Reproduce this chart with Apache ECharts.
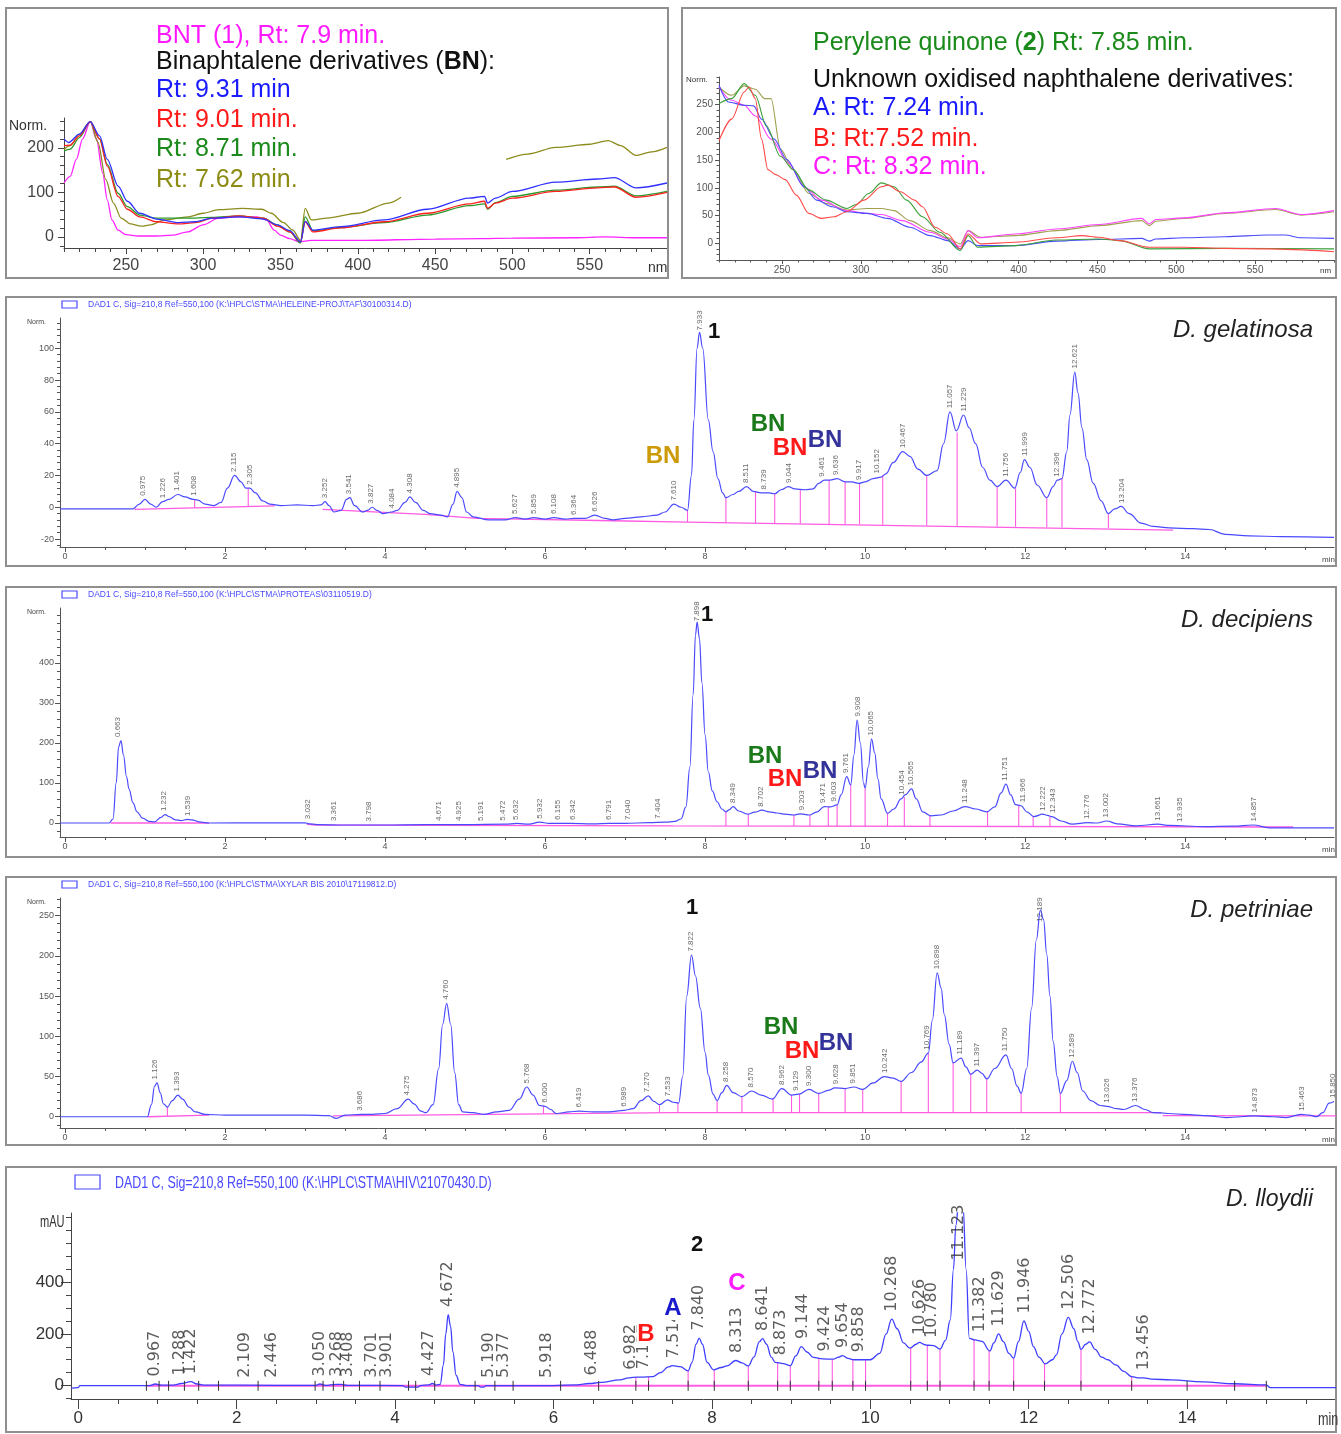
<!DOCTYPE html>
<html>
<head>
<meta charset="utf-8">
<script src="https://cdn.jsdelivr.net/npm/echarts@6/dist/echarts.min.js"></script>
<style>
  html, body { margin: 0; padding: 0; background: #fff; }
  #main { width: 1341px; height: 1434px; }
</style>
</head>
<body>
<div id="main"></div>
<script>
// ---------- UV spectra, left panel (nm / Norm.) ----------
const specTicksNm = [250, 300, 350, 400, 450, 500, 550];
const specATicksY = [0, 100, 200];
const bntSpec = [[210,121],[214,136],[218,174],[222,220],[227,259],[231,220],[235,144],[238,83],[241,38],[245,15],[250,5],[258,2],[270,2],[280,4],[290,11],[300,27],[310,42],[320,45],[335,45],[341,38],[346,15],[350,4],[356,-4],[362,-11],[370,-8],[400,-8],[450,-5],[480,-4],[500,-3],[540,-2],[560,0],[580,-2],[600,-2]];
const bn931Spec = [[210,220],[213,212],[220,231],[227,259],[233,227],[238,174],[245,114],[251,80],[259,53],[270,40],[284,32],[295,34],[306,42],[323,45],[339,40],[348,27],[356,14],[363,-11],[366,35],[371,15],[389,23],[417,38],[445,62],[472,87],[482,91],[484,76],[489,87],[500,102],[528,123],[555,130],[566,133],[580,110],[600,121]];
const bn901Spec = [[210,205],[214,206],[220,227],[227,259],[233,220],[238,159],[245,91],[251,62],[259,45],[270,34],[284,29],[295,32],[306,42],[323,47],[339,42],[348,24],[356,11],[363,-11],[366,34],[371,11],[389,20],[417,34],[445,53],[472,74],[482,80],[484,64],[489,76],[500,87],[528,102],[555,110],[566,112],[580,89],[600,100]];
const bn871Spec = [[210,193],[214,197],[220,223],[227,259],[233,220],[238,163],[245,98],[251,68],[259,49],[270,42],[284,42],[295,42],[306,44],[323,47],[339,42],[348,27],[356,11],[363,-14],[366,45],[371,14],[389,21],[417,32],[445,49],[472,70],[482,74],[484,62],[489,77],[500,91],[528,105],[555,112],[566,114],[580,92],[600,102]];
const bn762Spec = [[210,197],[214,205],[220,231],[227,259],[232,212],[237,129],[242,76],[247,42],[253,29],[260,24],[266,27],[275,38],[290,45],[300,53],[310,61],[325,64],[338,62],[344,53],[352,32],[358,15],[363,-8],[366,64],[370,38],[380,42],[400,53],[420,76],[428,89],[460,'-'],[496,174],[510,186],[528,201],[550,208],[562,216],[570,205],[580,183],[590,191],[600,201]];

// ---------- UV spectra, right panel ----------
const specBTicksY = [0, 50, 100, 150, 200, 250];
const pqSpec = [[210,252],[218,261],[226,288],[233,267],[240,212],[249,157],[257,133],[267,96],[278,78],[291,63],[297,70],[305,90],[313,109],[321,102],[329,78],[339,48],[350,20],[363,-13],[368,14],[374,-7],[398,-4],[424,6],[451,8],[464,5],[483,-10],[531,-9],[600,-10]];
const unkASpec = [[210,285],[216,255],[226,249],[232,248],[237,224],[245,188],[253,151],[264,102],[272,78],[282,66],[291,57],[304,54],[317,45],[331,29],[344,14],[355,5],[363,-10],[368,5],[374,-4],[398,-4],[424,4],[451,7],[478,9],[483,4],[487,8],[505,10],[531,12],[558,15],[569,15],[579,10],[600,9]];
const unkBSpec = [[210,185],[218,224],[226,273],[229,282],[233,261],[237,188],[241,133],[246,124],[252,115],[259,87],[267,54],[275,45],[283,48],[291,57],[302,78],[313,102],[317,105],[325,93],[334,78],[339,66],[347,29],[355,17],[363,-10],[368,17],[376,-1],[398,2],[424,10],[440,14],[451,11],[464,5],[483,-7],[505,-7],[531,-9],[558,-10],[600,-15]];
const unkCSpec = [[210,282],[218,258],[226,249],[233,230],[243,188],[254,145],[264,102],[275,78],[291,59],[304,54],[313,52],[326,41],[344,20],[355,8],[363,-6],[368,23],[374,10],[398,17],[424,26],[451,34],[478,45],[483,35],[487,43],[505,46],[531,55],[563,63],[579,52],[600,59]];
const oliveSpec = [[210,282],[218,267],[226,284],[233,278],[239,261],[243,261],[249,170],[257,133],[267,90],[278,72],[291,60],[304,63],[313,63],[321,59],[331,41],[344,23],[355,10],[363,-1],[368,23],[376,11],[398,14],[424,23],[451,32],[478,41],[483,32],[487,40],[505,45],[531,54],[563,61],[579,51],[600,57]];

// ---------- chromatograms (min / signal) ----------
const timeTicks = [0, 2, 4, 6, 8, 10, 12, 14];

// D. gelatinosa
const gelTicksY = [-20, 0, 20, 40, 60, 80, 100];
const gelTrace = [[-0.06,-1],[0.85,-1],[0.93,2],[1.0,5],[1.07,2],[1.14,0],[1.22,3.5],[1.3,5],[1.41,8],[1.5,6.5],[1.6,5],[1.66,4.5],[1.75,2],[1.86,1],[1.95,3],[2.03,12],[2.12,20],[2.2,16],[2.26,12],[2.31,12],[2.38,9],[2.47,4],[2.56,2],[2.7,1],[2.9,1.5],[3.1,1],[3.2,1.5],[3.25,3.5],[3.3,1],[3.36,-3],[3.45,-2],[3.52,5],[3.56,6],[3.62,1],[3.72,-3],[3.78,-2],[3.84,0],[3.9,-2],[3.97,-4],[4.08,-3],[4.15,-2],[4.25,3],[4.31,6.5],[4.38,3],[4.48,-2],[4.56,-4],[4.7,-5],[4.78,-6],[4.85,2],[4.9,10],[4.96,6],[5.02,-3],[5.1,-6],[5.3,-8],[5.5,-8],[5.63,-6.5],[5.75,-7.5],[5.86,-6.5],[6.0,-7.5],[6.11,-6.5],[6.25,-7.5],[6.36,-7],[6.5,-7],[6.62,-5],[6.75,-7],[6.85,-8],[7.0,-7],[7.2,-6],[7.4,-5],[7.5,-3],[7.61,2],[7.7,0],[7.78,-2],[7.83,20],[7.86,55],[7.9,100],[7.93,110],[7.97,100],[8.04,55],[8.1,35],[8.16,18],[8.22,9],[8.26,6],[8.35,8],[8.42,10],[8.52,13],[8.6,10],[8.7,9],[8.8,9],[8.87,8.5],[8.95,11],[9.04,13],[9.12,11.5],[9.25,11],[9.35,11.5],[9.42,15],[9.49,17],[9.56,17],[9.65,18],[9.75,16],[9.83,16],[9.92,15],[10.0,16],[10.1,18],[10.2,19],[10.26,21],[10.35,28],[10.47,35],[10.56,32],[10.66,24],[10.77,20],[10.9,23],[10.98,40],[11.06,60],[11.14,48],[11.23,58],[11.3,50],[11.38,40],[11.47,25],[11.56,17],[11.65,13],[11.76,17],[11.87,12],[11.94,22],[11.99,30],[12.06,25],[12.15,14],[12.27,6],[12.35,13],[12.4,17],[12.46,18],[12.52,35],[12.56,58],[12.62,85],[12.66,72],[12.71,50],[12.77,30],[12.85,15],[12.95,4],[13.04,-4],[13.12,-1],[13.2,0.5],[13.3,-4],[13.45,-10],[13.6,-12],[13.8,-13],[14.1,-13.5],[14.3,-14],[14.5,-17],[14.8,-18],[15.2,-18.5],[15.86,-19]];
const gelBase = [[0.87,-1.3],[2.62,0.8],[2.7,'-'],[3.22,-1.3],[4.5,-4.5],[5.15,-7],[6.85,-8.5],[7.78,-9.3],[13.85,-14.4]];
const gelDrops = [[1.62,-0.5,5],[2.29,0.3,12],[7.78,-9.3,-2],[8.26,-9.6,6],[8.63,-9.9,9.6],[8.87,-10,8.5],[9.19,-10.2,11.3],[9.55,-10.5,17],[9.75,-10.6,16],[9.93,-10.7,15],[10.22,-11,20],[10.77,-11.5,20],[11.15,-11.7,47],[11.65,-12.1,13],[11.88,-12.3,12],[12.27,-12.6,6],[12.46,-12.7,18],[13.04,-13.2,-4]];
const gelPeaks = [[0.975,5],[1.226,3.5],[1.401,8],[1.608,5],[2.115,20],[2.305,12],[3.252,3.5],[3.541,6],[3.827,0],[4.084,-3],[4.308,6.5],[4.895,10],[5.627,-6.5],[5.859,-6.5],[6.108,-6.5],[6.364,-7],[6.626,-5],[7.610,2],[7.933,109],[8.511,13],[8.739,9],[9.044,13],[9.461,17],[9.636,18],[9.917,15],[10.152,19],[10.467,35],[11.057,60],[11.229,58],[11.756,17],[11.999,30],[12.396,17],[12.621,85],[13.204,0.5]];

// D. decipiens
const decTicksY = [0, 100, 200, 300, 400];
const decTrace = [[-0.06,0],[0.55,0],[0.6,10],[0.64,100],[0.67,190],[0.7,206],[0.73,170],[0.77,115],[0.8,85],[0.85,50],[0.9,28],[0.97,12],[1.05,4],[1.12,3],[1.2,14],[1.25,21],[1.3,16],[1.38,8],[1.45,6],[1.53,9],[1.58,8],[1.7,2],[1.8,0],[2.5,0.5],[3.0,0.5],[3.05,-2],[3.15,-4],[3.5,-5],[4.0,-5],[4.5,-4],[5.0,-4],[5.5,-3],[5.65,-1],[5.8,-3],[5.93,2],[6.05,-1],[6.3,-1],[6.6,-2],[6.8,-1],[7.0,-1],[7.3,1],[7.5,2],[7.62,4],[7.7,10],[7.76,40],[7.81,140],[7.85,320],[7.88,470],[7.9,502],[7.93,460],[7.96,350],[8.0,220],[8.04,128],[8.09,80],[8.15,53],[8.21,35],[8.26,28],[8.3,33],[8.35,41],[8.42,30],[8.53,22],[8.62,27],[8.71,32],[8.8,28],[8.9,25],[9.0,22],[9.11,20],[9.19,23],[9.3,20],[9.4,28],[9.49,41],[9.56,40],[9.65,45],[9.7,70],[9.77,116],[9.82,95],[9.86,170],[9.9,257],[9.94,200],[9.98,100],[10.0,87],[10.04,140],[10.08,210],[10.12,175],[10.16,110],[10.2,60],[10.28,24],[10.36,35],[10.45,60],[10.5,70],[10.58,85],[10.64,60],[10.72,28],[10.82,18],[10.95,20],[11.1,30],[11.25,41],[11.38,35],[11.52,28],[11.62,40],[11.7,75],[11.76,97],[11.82,70],[11.88,46],[11.95,43],[12.02,28],[12.11,16],[12.22,22],[12.28,19],[12.33,16],[12.45,5],[12.59,-3],[12.78,1],[12.9,0],[13.02,5],[13.15,-2],[13.39,-7],[13.66,-3],[13.8,-6],[14.25,-9],[14.6,-8],[14.85,-5],[15.05,-12],[15.86,-12]];
const decBase = [[0.57,0],[1.8,0],[2.4,'-'],[3.02,-3],[3.12,-5],[7.6,-7],[15.35,-10]];
const decDrops = [[8.26,-7.3,28],[8.54,-7.4,22],[9.11,-7.6,20],[9.31,-7.7,20],[9.54,-7.8,40],[9.65,-7.8,45],[9.82,-7.9,95],[10.0,-7.9,87],[10.28,-8,24],[10.49,-8.1,65],[10.81,-8.2,18],[11.53,-8.5,28],[11.92,-8.6,45],[12.1,-8.7,16],[12.31,-8.8,16]];
const decPeaks = [[0.663,206],[1.232,21],[1.539,9],[3.032,0.5],[3.361,-4],[3.798,-5],[4.671,-4],[4.925,-4],[5.191,-4],[5.472,-3],[5.632,-1],[5.932,2],[6.155,-1],[6.342,-1],[6.791,-1],[7.040,-1],[7.404,2],[7.898,495],[8.349,41],[8.702,32],[9.203,23],[9.471,41],[9.603,45],[9.761,116],[9.908,257],[10.065,210],[10.454,62],[10.565,85],[11.248,41],[11.751,97],[11.966,43],[12.222,22],[12.343,16],[12.776,1],[13.002,5],[13.661,-3],[13.935,-6],[14.857,-5]];

// D. petriniae
const petTicksY = [0, 50, 100, 150, 200, 250];
const petTrace = [[-0.06,0],[1.03,0],[1.08,15],[1.12,38],[1.15,42],[1.19,30],[1.23,16],[1.28,12],[1.34,20],[1.41,27],[1.47,22],[1.55,12],[1.63,6],[1.75,3],[2.0,2],[2.5,2],[3.0,2],[3.3,1.5],[3.39,-2],[3.5,2],[3.7,3],[3.84,3],[4.0,4],[4.15,10],[4.29,22],[4.36,16],[4.45,7],[4.51,5],[4.6,15],[4.67,60],[4.72,115],[4.77,141],[4.82,115],[4.87,55],[4.92,15],[4.97,6],[5.1,5],[5.23,3],[5.4,6],[5.55,8],[5.68,22],[5.77,37],[5.85,27],[5.93,14],[6.0,13],[6.07,9],[6.14,4],[6.3,6],[6.42,7],[6.6,6],[6.8,6],[6.99,8],[7.1,10],[7.2,20],[7.29,26],[7.36,19],[7.43,15],[7.53,21],[7.6,18],[7.67,17],[7.72,50],[7.77,150],[7.83,201],[7.88,175],[7.94,135],[8.0,80],[8.04,52],[8.1,28],[8.15,20],[8.21,30],[8.27,39],[8.35,30],[8.46,25],[8.58,32],[8.7,27],[8.84,22],[8.96,35],[9.08,27],[9.17,28],[9.3,34],[9.42,29],[9.55,33],[9.62,36],[9.75,35],[9.86,37],[9.97,34],[10.1,42],[10.24,50],[10.35,48],[10.45,44],[10.58,55],[10.7,68],[10.79,79],[10.84,120],[10.9,179],[10.95,160],[10.99,127],[11.05,90],[11.1,67],[11.2,73],[11.26,62],[11.32,53],[11.4,58],[11.46,54],[11.52,47],[11.62,60],[11.76,77],[11.83,60],[11.9,38],[11.95,29],[12.02,60],[12.08,135],[12.14,220],[12.19,257],[12.23,245],[12.27,202],[12.31,150],[12.35,94],[12.4,50],[12.44,29],[12.52,45],[12.59,69],[12.65,55],[12.72,32],[12.82,20],[12.94,14],[13.02,13],[13.15,10],[13.23,9],[13.38,14],[13.5,9],[13.6,5],[13.98,3],[14.3,1],[14.51,-1],[14.87,1],[15.1,0],[15.26,-1],[15.45,3],[15.55,2],[15.64,0],[15.72,5],[15.8,17],[15.86,19]];
const petBase = [[1.03,0],[1.8,2],[2.5,'-'],[3.35,1],[7.6,5],[13.7,5],[13.71,'-'],[13.72,1.5],[15.9,1]];
const petDrops = [[1.28,0.5,12],[5.98,4,13],[7.43,5,15],[7.66,5,17],[8.15,5,20],[8.46,5,25],[8.85,5,22],[9.08,5,27],[9.18,5,28],[9.42,5,29],[9.75,5,35],[9.97,5,34],[10.45,5,44],[10.79,5,79],[11.1,5,67],[11.32,5,53],[11.52,5,47],[11.95,5,29],[12.44,5,29]];
const petPeaks = [[1.126,42],[1.393,27],[3.686,3],[4.275,22],[4.760,141],[5.768,37],[6.000,13],[6.419,7],[6.989,8],[7.270,26],[7.533,21],[7.822,201],[8.258,39],[8.570,32],[8.962,35],[9.129,28],[9.300,34],[9.628,36],[9.851,37],[10.242,50],[10.769,79],[10.898,179],[11.189,73],[11.397,58],[11.750,77],[12.189,238],[12.589,69],[13.026,13],[13.376,14],[14.873,1],[15.463,3],[15.850,19]];

// D. lloydii
const lloTicksY = [0, 200, 400];
const lloTrace = [[-0.09,-10],[0.0,-8],[0.02,0],[0.9,0],[0.97,6],[1.05,2],[1.2,2],[1.3,8],[1.42,15],[1.5,6],[1.6,2],[2.5,1],[3.0,1],[3.05,6],[3.12,1],[3.25,5],[3.32,5],[3.4,1],[4.1,0],[4.13,-6],[4.29,-6],[4.32,0],[4.43,3],[4.47,8],[4.52,2],[4.57,5],[4.61,80],[4.64,200],[4.67,275],[4.7,230],[4.73,130],[4.77,40],[4.82,5],[4.9,0],[5.05,0],[5.08,-6],[5.12,-6],[5.15,0],[5.5,0],[6.0,0],[6.3,3],[6.45,8],[6.6,12],[6.84,22],[6.95,30],[7.01,32],[7.1,33],[7.26,35],[7.35,50],[7.45,72],[7.5,77],[7.6,73],[7.7,57],[7.75,90],[7.8,160],[7.84,184],[7.88,160],[7.94,90],[8.02,61],[8.12,70],[8.19,76],[8.3,97],[8.38,88],[8.46,76],[8.53,110],[8.6,170],[8.64,182],[8.69,160],[8.75,110],[8.8,90],[8.9,85],[8.99,77],[9.06,115],[9.13,151],[9.2,130],[9.28,109],[9.4,103],[9.53,102],[9.6,110],[9.65,116],[9.72,105],[9.79,100],[9.9,100],[10.0,100],[10.12,125],[10.2,200],[10.27,257],[10.34,220],[10.42,165],[10.5,145],[10.58,160],[10.62,167],[10.69,158],[10.73,156],[10.8,155],[10.88,141],[10.95,175],[11.01,254],[11.05,450],[11.08,620],[11.12,720],[11.17,700],[11.21,450],[11.25,183],[11.32,177],[11.41,171],[11.51,134],[11.56,165],[11.62,200],[11.68,170],[11.75,125],[11.81,106],[11.87,170],[11.94,250],[12.0,210],[12.06,151],[12.13,110],[12.21,84],[12.3,100],[12.35,119],[12.42,200],[12.5,264],[12.57,220],[12.62,170],[12.66,140],[12.72,160],[12.77,169],[12.84,140],[12.92,110],[13.0,100],[13.1,80],[13.2,55],[13.3,35],[13.38,30],[13.45,30],[13.55,25],[13.8,22],[14.2,14],[14.6,7],[15.0,3],[15.05,-8],[15.88,-8]];
const lloBase = [[0.86,-1],[15.0,-1]];
const lloDrops = [[7.04,-1,32],[7.2,-1,34],[7.7,-1,57],[8.03,-1,61],[8.46,-1,76],[8.83,-1,88],[8.99,-1,77],[9.35,-1,105],[9.52,-1,102],[9.78,-1,100],[9.94,-1,100],[10.51,-1,145],[10.72,-1,156],[10.88,-1,141],[11.31,-1,177],[11.5,-1,134],[11.81,-1,106],[12.2,-1,84],[12.66,-1,140],[13.3,-1,35]];
const lloMarks = [0.86,1.02,1.14,1.34,1.52,1.77,2.27,2.99,3.09,3.22,3.35,3.55,3.81,4.17,4.26,4.5,5.01,5.26,5.49,6.09,6.57,7.04,7.2,7.7,8.03,8.46,8.83,8.99,9.35,9.52,9.78,9.94,10.51,10.72,10.88,11.31,11.5,11.81,12.2,12.66,13.3,14.0,14.6,15.0];
const lloPeaks = [[0.967,6],[1.288,10],[1.422,15],[2.109,1],[2.446,1],[3.050,6],[3.268,5],[3.408,3],[3.701,1],[3.901,1],[4.427,8],[4.672,275],[5.190,0],[5.377,0],[5.918,0],[6.488,10],[6.982,32],[7.137,34],[7.514,77],[7.840,184],[8.313,97],[8.641,182],[8.873,88],[9.144,151],[9.424,103],[9.654,116],[9.858,100],[10.268,257],[10.626,167],[10.780,155],[11.123,455],[11.382,177],[11.629,200],[11.946,250],[12.506,264],[12.772,169],[13.456,30]];

// ---------- building ----------
const SANS = '"Liberation Sans", Arial, Helvetica, sans-serif';
const DEJAVU = '"DejaVu Sans", sans-serif';
const TRACE = '#4a4aff';
const PINK = '#ff5ce1';

function steps(a, b, s) {
  const out = [];
  for (let v = a; v <= b + 1e-9; v += s) out.push(Math.round(v * 1000) / 1000);
  return out;
}

const grids = [], xAxes = [], yAxes = [], series = [];

function addPanel(box, xr, yr, st) {
  const gi = grids.length;
  grids.push({ left: box[0], top: box[1], width: box[2], height: box[3] });
  const xi = xAxes.length, yi = yAxes.length;
  const line = { show: true, onZero: false, lineStyle: { color: st.axis, width: 1 } };
  const noLine = { show: false, onZero: false };
  const lab = { color: st.lab, fontSize: st.fs, fontFamily: st.ff };
  xAxes.push({ type: 'value', gridIndex: gi, position: 'bottom', min: xr[0], max: xr[1],
    axisLine: line, splitLine: { show: false },
    axisTick: { show: true, customValues: xr[2], length: st.major, lineStyle: { color: st.axis } },
    axisLabel: Object.assign({ customValues: xr[2], margin: st.xm }, lab) });
  xAxes.push({ type: 'value', gridIndex: gi, position: 'bottom', min: xr[0], max: xr[1],
    axisLine: noLine, splitLine: { show: false }, axisLabel: { show: false },
    axisTick: { show: true, customValues: xr[3], length: st.minor, lineStyle: { color: st.axis } } });
  yAxes.push({ type: 'value', gridIndex: gi, position: 'left', min: yr[0], max: yr[1],
    axisLine: line, splitLine: { show: false },
    axisTick: { show: true, customValues: yr[2], length: st.major, lineStyle: { color: st.axis } },
    axisLabel: Object.assign({ customValues: yr[2], margin: st.ym }, lab) });
  yAxes.push({ type: 'value', gridIndex: gi, position: 'left', min: yr[0], max: yr[1],
    axisLine: noLine, splitLine: { show: false }, axisLabel: { show: false },
    axisTick: { show: true, customValues: yr[3], length: st.minor, lineStyle: { color: st.axis } } });
  return { xi, yi };
}

function lineS(ax, data, color, width, smooth, z) {
  return { type: 'line', xAxisIndex: ax.xi, yAxisIndex: ax.yi, data, symbol: 'none', showSymbol: false,
    smooth: smooth, smoothMonotone: 'x', connectNulls: false, clip: true, silent: true, z: z || 3,
    lineStyle: { color, width }, itemStyle: { color } };
}

function dropS(ax, data) {
  return { type: 'custom', xAxisIndex: ax.xi, yAxisIndex: ax.yi, data, silent: true, z: 2,
    encode: { x: 0, y: [1, 2] },
    renderItem: (params, api) => {
      const a = api.coord([api.value(0), api.value(1)]);
      const b = api.coord([api.value(0), api.value(2)]);
      return { type: 'line', shape: { x1: a[0], y1: a[1], x2: b[0], y2: b[1] },
        style: { stroke: PINK, lineWidth: 1.1 } };
    } };
}

function markS(ax, data) {
  return { type: 'custom', xAxisIndex: ax.xi, yAxisIndex: ax.yi, data, silent: true, z: 4,
    encode: { x: 0, y: 1 },
    renderItem: (params, api) => {
      const a = api.coord([api.value(0), api.value(1)]);
      return { type: 'line', shape: { x1: a[0], y1: a[1] - 5, x2: a[0], y2: a[1] + 5 },
        style: { stroke: '#333', lineWidth: 1 } };
    } };
}

function peakS(ax, data, fs, ff, color, dist) {
  return { type: 'scatter', xAxisIndex: ax.xi, yAxisIndex: ax.yi, data, symbolSize: 1, silent: true, z: 5,
    itemStyle: { color: 'rgba(0,0,0,0)' },
    label: { show: true, position: 'top', rotate: 90, align: 'left', verticalAlign: 'middle', distance: dist,
      fontSize: fs, fontFamily: ff, color, formatter: p => p.value[0].toFixed(3) } };
}

// panel styles
const stSpecA = { axis: '#444', lab: '#444', fs: 16, ff: SANS, xm: 10, ym: 10, major: 6, minor: 4 };
const stSpecB = { axis: '#555', lab: '#555', fs: 10, ff: SANS, xm: 5, ym: 6, major: 4, minor: 2.5 };
const stChrom = { axis: '#555', lab: '#555', fs: 9, ff: SANS, xm: 5, ym: 6, major: 5, minor: 3 };
const stLlo = { axis: '#444', lab: '#333', fs: 17, ff: SANS, xm: 11, ym: 7, major: 10, minor: 5 };

// spectra panels
const axA = addPanel([64, 118, 603, 130], [210, 600, specTicksNm, steps(210, 600, 10)], [-25, 267, specATicksY, steps(-20, 260, 20)], stSpecA);
series.push(lineS(axA, bntSpec, '#ff22ff', 1.3, 0.3));
series.push(lineS(axA, bn762Spec, '#8c8c1e', 1.3, 0.3));
series.push(lineS(axA, bn871Spec, '#2a9a2a', 1.3, 0.3));
series.push(lineS(axA, bn901Spec, '#ff2020', 1.3, 0.3));
series.push(lineS(axA, bn931Spec, '#3030ff', 1.3, 0.3));

const axB = addPanel([719, 77, 615, 183], [210, 600, specTicksNm, steps(210, 600, 10)], [-30, 300, specBTicksY, steps(-30, 300, 10)], stSpecB);
series.push(lineS(axB, oliveSpec, '#a0a050', 1.1, 0.3));
series.push(lineS(axB, unkCSpec, '#ff44ff', 1.1, 0.3));
series.push(lineS(axB, unkASpec, '#4a4aff', 1.1, 0.3));
series.push(lineS(axB, pqSpec, '#3aa03a', 1.1, 0.3));
series.push(lineS(axB, unkBSpec, '#ff4a4a', 1.1, 0.3));

// chromatograms
const chromX = [-0.0625, 15.86, timeTicks, steps(0, 15.5, 0.5)];
const axG = addPanel([60, 318, 1274, 229], chromX, [-25, 119, gelTicksY, steps(-24, 116, 4)], stChrom);
series.push(lineS(axG, gelBase, PINK, 1.3, false, 2));
series.push(dropS(axG, gelDrops));
series.push(lineS(axG, gelTrace, TRACE, 1.2, 0.4));
series.push(peakS(axG, gelPeaks, 8, SANS, '#444', 3));

const axD = addPanel([60, 608, 1274, 229], chromX, [-35, 537, decTicksY, steps(-20, 520, 20)], stChrom);
series.push(lineS(axD, decBase, PINK, 1.3, false, 2));
series.push(dropS(axD, decDrops));
series.push(lineS(axD, decTrace, TRACE, 1.2, 0.4));
series.push(peakS(axD, decPeaks, 8, SANS, '#444', 3));

const axP = addPanel([60, 898, 1274, 230], chromX, [-14, 272, petTicksY, steps(-10, 270, 10)], stChrom);
series.push(lineS(axP, petBase, PINK, 1.3, false, 2));
series.push(dropS(axP, petDrops));
series.push(lineS(axP, petTrace, TRACE, 1.2, 0.4));
series.push(peakS(axP, petPeaks, 8, SANS, '#444', 3));

const axL = addPanel([71, 1213, 1265, 186], [-0.092, 15.88, timeTicks, steps(0, 15.5, 0.5)], [-52, 668, lloTicksY, steps(-50, 650, 50)], stLlo);
series.push(lineS(axL, lloBase, PINK, 2, false, 2));
series.push(dropS(axL, lloDrops));
series.push(markS(axL, lloMarks.map(t => [t, -1])));
series.push(lineS(axL, lloTrace, '#3f3fff', 1.3, 0.4));
series.push(peakS(axL, lloPeaks, 16, DEJAVU, '#333', 7));

// ---------- texts, frames ----------
const gfx = [];
[[6, 8, 662, 270], [682, 8, 654, 270], [6, 297, 1330, 269], [6, 587, 1330, 270], [6, 877, 1330, 268], [6, 1167, 1330, 265]]
  .forEach(b => gfx.push({ type: 'rect', silent: true, z: 1,
    shape: { x: b[0], y: b[1], width: b[2], height: b[3] }, style: { fill: 'none', stroke: '#8f8f8f', lineWidth: 2 } }));

function T(x, y, text, o, sx) {
  const st = Object.assign({ text, fill: '#000', fontSize: 25, fontFamily: SANS,
    align: 'left', verticalAlign: 'middle' }, o || {});
  st.textAlign = st.align;
  st.textVerticalAlign = st.verticalAlign;
  const el = { type: 'text', x, y, silent: true, z: 100, style: st };
  if (sx) el.scaleX = sx;   // squeezed text of the lower panel
  return el;
}
function legendBox(x, y, w, h) {
  return { type: 'rect', silent: true, z: 100, shape: { x, y, width: w, height: h },
    style: { fill: 'none', stroke: TRACE, lineWidth: 1.2 } };
}

// left spectra legend text
gfx.push(T(156, 36, 'BNT (1), Rt: 7.9 min.', { fill: '#ff1aff' }));
gfx.push(T(156, 62, 'Binaphtalene derivatives ({b|BN}):', { fill: '#111',
  rich: { b: { fontWeight: 'bold', fontSize: 25, fontFamily: SANS, fill: '#111' } } }));
gfx.push(T(156, 90, 'Rt: 9.31 min', { fill: '#1a1aff' }));
gfx.push(T(156, 120, 'Rt: 9.01 min.', { fill: '#ff1a1a' }));
gfx.push(T(156, 149, 'Rt: 8.71 min.', { fill: '#1a8a1a' }));
gfx.push(T(156, 180, 'Rt: 7.62 min.', { fill: '#8c8c14' }));
gfx.push(T(9, 126, 'Norm.', { fontSize: 14, fill: '#333' }));
gfx.push(T(648, 268, 'nm', { fontSize: 14, fill: '#333' }));

// right spectra legend text
gfx.push(T(813, 43, 'Perylene quinone ({b|2}) Rt: 7.85 min.', { fill: '#1a8a1a',
  rich: { b: { fontWeight: 'bold', fontSize: 25, fontFamily: SANS, fill: '#1a8a1a' } } }));
gfx.push(T(813, 80, 'Unknown oxidised naphthalene derivatives:', { fill: '#111' }));
gfx.push(T(813, 108, 'A: Rt: 7.24 min.', { fill: '#1a1aff' }));
gfx.push(T(813, 139, 'B: Rt:7.52 min.', { fill: '#ff1a1a' }));
gfx.push(T(813, 167, 'C: Rt: 8.32 min.', { fill: '#ff1aff' }));
gfx.push(T(686, 80, 'Norm.', { fontSize: 8, fill: '#333' }));
gfx.push(T(1320, 271, 'nm', { fontSize: 8, fill: '#333' }));

// chromatogram headers
const heads = [
  [301, 'DAD1 C, Sig=210,8 Ref=550,100 (K:\\HPLC\\STMA\\HELEINE-PROJ\\TAF\\30100314.D)', 'D. gelatinosa', 330],
  [591, 'DAD1 C, Sig=210,8 Ref=550,100 (K:\\HPLC\\STMA\\PROTEAS\\03110519.D)', 'D. decipiens', 620],
  [881, 'DAD1 C, Sig=210,8 Ref=550,100 (K:\\HPLC\\STMA\\XYLAR BIS 2010\\17119812.D)', 'D. petriniae', 910]
];
heads.forEach(h => {
  gfx.push(legendBox(62, h[0], 15, 7));
  gfx.push(T(88, h[0] + 4, h[1], { fontSize: 8.5, fill: TRACE }));
  gfx.push(T(1313, h[3], h[2], { align: 'right', fontStyle: 'italic', fontSize: 24, fill: '#222' }));
  gfx.push(T(27, h[0] + 21, 'Norm.', { fontSize: 7, fill: '#444' }));
  gfx.push(T(1322, h[0] + 259, 'min', { fontSize: 8, fill: '#444' }));
});
gfx.push(legendBox(75, 1175, 25, 14));
gfx.push(T(115, 1183, 'DAD1 C, Sig=210,8 Ref=550,100 (K:\\HPLC\\STMA\\HIV\\21070430.D)', { fontSize: 17, fill: TRACE }, 0.73));
gfx.push(T(1313, 1200, 'D. lloydii', { align: 'right', fontStyle: 'italic', fontSize: 23, fill: '#222' }));
gfx.push(T(40, 1222, 'mAU', { fontSize: 17, fill: '#333' }, 0.65));
gfx.push(T(1318, 1420, 'min', { fontSize: 18, fill: '#333' }, 0.7));

// compound annotations
function ann(x, y, s, color, size, bg) {
  const o = { align: 'center', fontWeight: 'bold', fontSize: size || 24, fill: color };
  if (bg) { o.backgroundColor = '#fff'; o.padding = [0, 1]; }
  return T(x, y, s, o);
}
const GOLD = '#cc9a06', BNG = '#1a7a1a', BNR = '#ff1a1a', BNB = '#333399';
gfx.push(ann(714, 332, '1', '#111', 22));
gfx.push(ann(663, 456, 'BN', GOLD));
gfx.push(ann(768, 424, 'BN', BNG));
gfx.push(ann(790, 448, 'BN', BNR));
gfx.push(ann(825, 440, 'BN', BNB));

gfx.push(ann(707, 615, '1', '#111', 22));
gfx.push(ann(765, 756, 'BN', BNG));
gfx.push(ann(785, 779, 'BN', BNR));
gfx.push(ann(820, 771, 'BN', BNB));

gfx.push(ann(692, 908, '1', '#111', 22));
gfx.push(ann(781, 1027, 'BN', BNG));
gfx.push(ann(802, 1051, 'BN', BNR));
gfx.push(ann(836, 1043, 'BN', BNB));

gfx.push(ann(697, 1245, '2', '#111', 22));
gfx.push(ann(673, 1308, 'A', '#1a1acc', 24, true));
gfx.push(ann(646, 1334, 'B', '#ff1a1a', 24, true));
gfx.push(ann(737, 1283, 'C', '#ff1aff', 24));

const chart = echarts.init(document.getElementById('main'));
chart.setOption({
  animation: false,
  backgroundColor: '#fff',
  textStyle: { fontFamily: SANS },
  grid: grids,
  xAxis: xAxes,
  yAxis: yAxes,
  series: series,
  graphic: { elements: gfx }
});
</script>
</body>
</html>
